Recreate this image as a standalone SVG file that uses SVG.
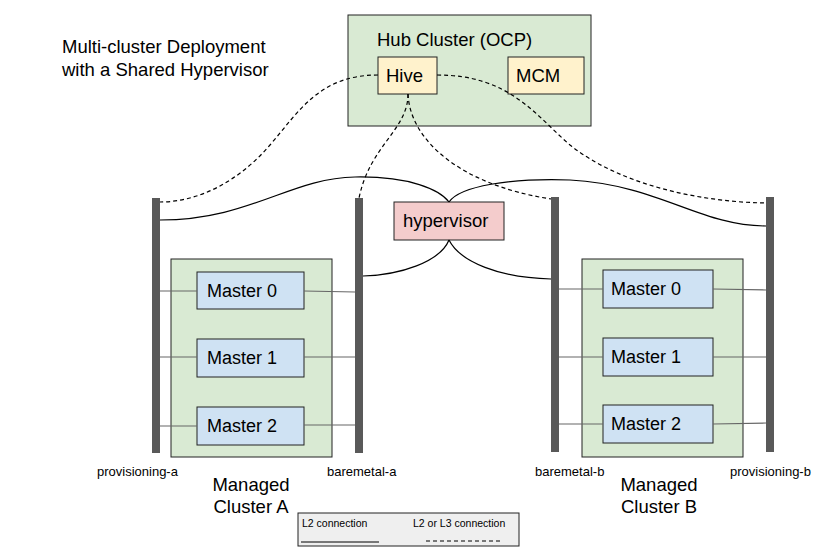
<svg xmlns="http://www.w3.org/2000/svg" width="817" height="554" viewBox="0 0 817 554">
<style>
text{font-family:"Liberation Sans",Arial,sans-serif;fill:#000}
.green{fill:#d9ead3;stroke:#222;stroke-width:1}
.yellow{fill:#fff2cc;stroke:#222;stroke-width:1}
.blue{fill:#cfe2f3;stroke:#222;stroke-width:1}
.pink{fill:#f4cccc;stroke:#222;stroke-width:1}
.bar{fill:#595959}
.big{font-size:18px}
.ttl{font-size:18.5px}
.lbl{font-size:13px}
.solid{fill:none;stroke:#000;stroke-width:1.2}
.dash{fill:none;stroke:#000;stroke-width:1.2;stroke-dasharray:4,3}
.thin{fill:none;stroke:#666;stroke-width:1.2}
</style>
<rect width="817" height="554" fill="#fff"/>
<g id="title">
<text x="62" y="53" class="ttl">Multi-cluster Deployment</text>
<text x="62" y="76" class="ttl">with a Shared Hypervisor</text>
</g>
<g id="hub">
<rect class="green" x="348" y="15" width="243" height="111"/>
<text x="377" y="46" class="ttl">Hub Cluster (OCP)</text>
</g>
<g id="hive"><rect class="yellow" x="378" y="57" width="59" height="37"/><text x="386" y="82" class="ttl">Hive</text></g>
<g id="mcm"><rect class="yellow" x="508" y="57" width="76" height="37"/><text x="516" y="82" class="ttl">MCM</text></g>
<g id="hypervisor"><rect class="pink" x="394" y="202" width="110" height="38"/><text x="403" y="227" class="ttl">hypervisor</text></g>
<g id="clusterA">
<rect class="green" x="171" y="259" width="161" height="198"/>
<text x="251" y="491" class="ttl" text-anchor="middle">Managed</text>
<text x="251" y="513" class="ttl" text-anchor="middle">Cluster A</text>
</g>
<g id="clusterB">
<rect class="green" x="582" y="259" width="161" height="198"/>
<text x="659" y="491" class="ttl" text-anchor="middle">Managed</text>
<text x="659" y="513" class="ttl" text-anchor="middle">Cluster B</text>
</g>
<g id="a-master0"><rect class="blue" x="197" y="272" width="107" height="37"/><text x="207" y="297" class="big">Master 0</text></g>
<g id="a-master1"><rect class="blue" x="197" y="339" width="107" height="38"/><text x="207" y="364" class="big">Master 1</text></g>
<g id="a-master2"><rect class="blue" x="197" y="407" width="107" height="38"/><text x="207" y="432" class="big">Master 2</text></g>
<g id="b-master0"><rect class="blue" x="603" y="270" width="110" height="38"/><text x="611" y="295" class="big">Master 0</text></g>
<g id="b-master1"><rect class="blue" x="603" y="338" width="110" height="38"/><text x="611" y="363" class="big">Master 1</text></g>
<g id="b-master2"><rect class="blue" x="603" y="405" width="110" height="38"/><text x="611" y="430" class="big">Master 2</text></g>
<g id="provisioning-a"><rect class="bar" x="152" y="198" width="8" height="255"/><text x="97" y="476" class="lbl">provisioning-a</text></g>
<g id="baremetal-a"><rect class="bar" x="355" y="198" width="8" height="255"/><text x="327" y="476" class="lbl">baremetal-a</text></g>
<g id="baremetal-b"><rect class="bar" x="551" y="197" width="8" height="255"/><text x="535" y="476" class="lbl">baremetal-b</text></g>
<g id="provisioning-b"><rect class="bar" x="766" y="197" width="8" height="255"/><text x="730" y="476" class="lbl">provisioning-b</text></g>
<g id="connectors">
<path class="thin" d="M160 291 H197 M304 291 L355 292 M160 357 H197 M304 357 H355 M160 426 H197 M304 425 H355"/>
<path class="thin" d="M559 289 H603 M713 289 L766 290 M559 357 H603 M713 357 H766 M559 424 H603 M713 424 L766 423"/>
<path class="solid" d="M160 220 C250 220 290 178 355 177 C410 176 440 190 449 202"/>
<path class="solid" d="M449 202 C460 186 510 178 570 180 C660 185 700 226 766 226"/>
<path class="solid" d="M449 240 C440 262 400 275 363 276"/>
<path class="solid" d="M449 240 C460 262 500 278 551 279"/>
<path class="dash" d="M378 75 C320 75 300 110 270 145 C240 180 200 202 160 202"/>
<path class="dash" d="M408 94 C408 130 370 145 359 198"/>
<path class="dash" d="M408 94 C410 140 460 185 551 199"/>
<path class="dash" d="M437 75 C510 75 535 115 570 145 C620 185 700 202 766 203"/>
</g>
<g id="legend">
<rect x="298" y="513" width="221" height="33" fill="#efefef" stroke="#222" stroke-width="1"/>
<text x="302" y="527" font-size="10.5">L2 connection</text>
<text x="413" y="527" font-size="10.5">L2 or L3 connection</text>
<line x1="301" y1="542" x2="379" y2="542" stroke="#000" stroke-width="1"/>
<line x1="426" y1="541" x2="500" y2="541" stroke="#000" stroke-width="1" stroke-dasharray="4,3"/>
</g>
</svg>
